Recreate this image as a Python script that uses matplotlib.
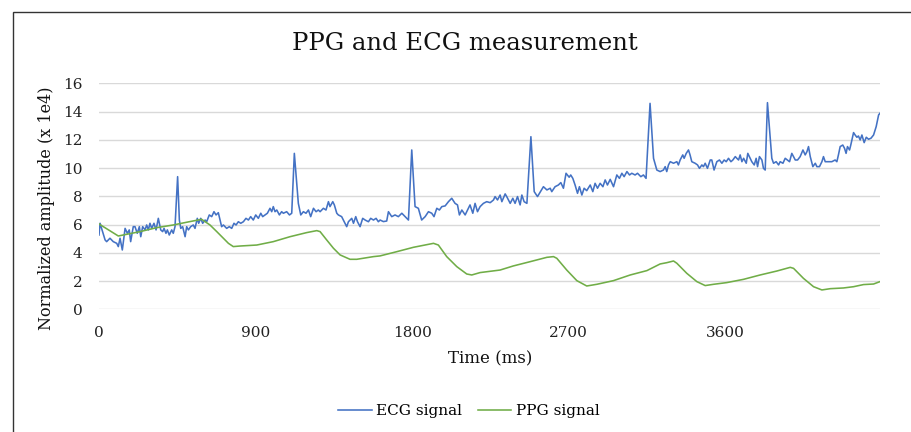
import matplotlib
matplotlib.use("Agg")
import matplotlib.pyplot as plt
from matplotlib.patches import Rectangle

# ECG signal (time in ms, amplitude x 1e4)
ecg_time_ms = [
    0, 6, 35, 44, 63, 82, 102, 111, 121, 134, 150, 163, 174, 182, 197, 207, 220, 232, 240, 251,
    265, 274, 284, 293, 303, 316, 328, 341, 355, 366, 374, 385, 393, 404, 418, 427, 437, 452, 462, 470,
    481, 495, 504, 514, 527, 542, 552, 565, 573, 585, 596, 610, 619, 634, 648, 661, 673, 686, 705, 715,
    734, 749, 763, 776, 788, 801, 815, 830, 845, 859, 872, 887, 901, 916, 930, 941, 955, 968, 983, 993,
    1002, 1012, 1022, 1037, 1050, 1060, 1079, 1095, 1108, 1123, 1146, 1160, 1175, 1190, 1204, 1217, 1233, 1248, 1261, 1271,
    1290, 1305, 1319, 1328, 1344, 1353, 1367, 1376, 1395, 1424, 1434, 1453, 1463, 1476, 1486, 1501, 1516, 1530, 1549, 1562,
    1578, 1593, 1606,
    1616, 1635, 1654, 1664, 1683, 1702, 1721, 1741, 1760, 1779, 1798, 1817, 1836, 1855, 1875, 1894, 1913, 1926, 1942, 1957,
    1971, 1990, 2009, 2028, 2047, 2061, 2072, 2086, 2105, 2133, 2149, 2162, 2176, 2191, 2210, 2229, 2249, 2268, 2277, 2291,
    2306, 2316, 2335, 2344, 2364, 2379, 2392, 2406, 2421, 2431, 2444, 2460, 2483, 2502, 2521, 2555, 2575, 2594, 2603, 2622,
    2641, 2655, 2670, 2685, 2703, 2712, 2724, 2737, 2751, 2762, 2776, 2789, 2804, 2824, 2839, 2852, 2866, 2881, 2897, 2910,
    2923, 2939, 2958, 2977, 2992, 3006, 3019, 3035, 3050, 3063, 3082, 3096, 3115, 3130, 3145, 3168, 3188, 3207,
    3226, 3245, 3255, 3264, 3274, 3284, 3303, 3322, 3331, 3341, 3356, 3364, 3376, 3389, 3398, 3408, 3427, 3441, 3452, 3466,
    3475, 3485, 3498, 3514, 3523, 3536, 3552, 3567, 3581, 3594, 3606, 3619, 3633, 3644, 3658, 3667, 3677, 3686, 3696, 3706,
    3721, 3730, 3744, 3753, 3767, 3778, 3786, 3797, 3811, 3820, 3830, 3843, 3868, 3878, 3893, 3907, 3916, 3932, 3945, 3958,
    3970, 3983, 3993, 4003, 4016, 4031, 4047, 4060, 4070, 4079, 4089, 4104, 4118, 4127, 4142, 4156, 4165, 4175, 4194, 4213,
    4232, 4242, 4251, 4261, 4276, 4286, 4295, 4303, 4315, 4322, 4338, 4347, 4357, 4366, 4376, 4386, 4399, 4411, 4424, 4438,
    4453, 4468, 4482, 4490,
]
ecg_signal = [
    5.26, 6.09, 4.91, 4.79, 5.03, 4.79, 4.67, 4.44, 5.03, 4.20, 5.73, 5.38, 5.62, 4.79, 5.85, 5.85, 5.38, 5.85, 5.14, 5.85,
    5.62, 5.97, 5.62, 6.09, 5.73, 6.09, 5.62, 6.44, 5.62, 5.50, 5.73, 5.38, 5.62, 5.26, 5.62, 5.38, 5.85, 9.39, 6.32, 5.73,
    5.85, 5.14, 5.85, 5.62, 5.85, 5.97, 5.73, 6.44, 6.09, 6.44, 6.09, 6.32, 6.20, 6.68, 6.56, 6.91, 6.68, 6.84, 5.85, 5.97,
    5.73, 5.85, 5.73, 6.09, 5.97, 6.20, 6.09, 6.20, 6.44, 6.32, 6.56, 6.32, 6.68, 6.44, 6.80, 6.56, 6.68, 6.80, 7.15, 6.91,
    7.27, 6.91, 7.03, 6.68, 6.91, 6.80, 6.91, 6.68, 6.80, 11.04, 7.50, 6.68, 6.91, 6.80, 7.03, 6.56, 7.15, 6.91, 7.03, 6.91,
    7.15, 7.03, 7.62, 7.27, 7.62, 7.39, 6.80, 6.68, 6.56, 5.85, 6.20, 6.44, 6.09, 6.56, 6.20, 5.85, 6.44, 6.32, 6.20, 6.44,
    6.32, 6.44, 6.20,
    6.32, 6.21, 6.25, 6.91, 6.56, 6.68, 6.56, 6.80, 6.56, 6.32, 11.28, 7.27, 7.15, 6.32, 6.56, 6.91, 6.80, 6.56, 7.15, 7.03,
    7.27, 7.32, 7.62, 7.86, 7.50, 7.39, 6.68, 7.03, 6.68, 7.39, 6.80, 7.50, 6.91, 7.27, 7.50, 7.62, 7.55, 7.74, 7.98, 7.74,
    8.09, 7.62, 8.17, 7.98, 7.50, 7.86, 7.50, 7.98, 7.39, 8.09, 7.62, 7.50, 12.22, 8.33, 7.98, 8.68, 8.45, 8.57, 8.33, 8.68,
    8.80, 8.97, 8.57, 9.63, 9.35, 9.51, 9.27, 8.80, 8.21, 8.68, 8.09, 8.57, 8.40, 8.80, 8.33, 8.92, 8.57, 8.92, 8.68, 9.16,
    8.80, 9.20, 8.68, 9.51, 9.27, 9.63, 9.39, 9.75, 9.51, 9.63, 9.51, 9.63, 9.39, 9.51, 9.27, 14.58, 10.69, 9.86,
    9.75, 9.86, 10.10, 9.75, 10.22, 10.45, 10.34, 10.45, 10.22, 10.57, 10.93, 10.69, 11.04, 11.28, 10.93, 10.45, 10.34, 10.22, 9.98, 10.22,
    10.10, 10.34, 9.98, 10.57, 10.57, 9.86, 10.45, 10.57, 10.34, 10.57, 10.45, 10.69, 10.45, 10.57, 10.81, 10.69, 10.57, 10.93, 10.45, 10.69,
    10.34, 11.04, 10.69, 10.45, 10.22, 10.69, 10.10, 10.81, 10.57, 9.98, 9.86, 14.63, 10.69, 10.34, 10.45, 10.22, 10.45, 10.34, 10.69, 10.57,
    10.45, 11.04, 10.81, 10.57, 10.57, 10.81, 11.28, 10.93, 11.16, 11.52, 10.81, 10.10, 10.34, 10.10, 10.10, 10.45, 10.81, 10.45, 10.45, 10.45,
    10.57, 10.45, 10.93, 11.52, 11.63, 11.40, 11.04, 11.52, 11.28, 11.63, 12.51, 12.34, 12.18, 12.27, 11.99, 12.34, 11.80, 12.18, 12.04, 12.11,
    12.34, 12.93, 13.76, 13.88,
]

# PPG signal
ppg_time_ms = [
    0, 111, 236, 332, 427, 523, 590, 638, 677, 715, 744, 772, 811, 907, 1002, 1098, 1194, 1252, 1271, 1309,
    1348, 1386, 1443, 1482, 1578,
    1616, 1712, 1808, 1923, 1951, 1999, 2057, 2114, 2143, 2191, 2306, 2382, 2478, 2575, 2613, 2632, 2689, 2747, 2804, 2862,
    2958, 3054, 3150,
    3226, 3264, 3303, 3322, 3379, 3437, 3485, 3533, 3609, 3705, 3801, 3897, 3974, 3993, 4050, 4108, 4156, 4204, 4280, 4338,
    4395, 4453, 4490,
]
ppg_signal = [
    6.04, 5.19, 5.50, 5.78, 5.97, 6.21, 6.37, 5.97, 5.50, 5.03, 4.67, 4.44, 4.48, 4.55, 4.79, 5.14, 5.43, 5.57, 5.50, 4.91,
    4.32, 3.85, 3.54, 3.54, 3.73,
    3.78, 4.08, 4.39, 4.67, 4.55, 3.73, 3.02, 2.50, 2.43, 2.60, 2.78, 3.07, 3.37, 3.68, 3.73, 3.61, 2.78, 2.03, 1.65, 1.77,
    2.03, 2.43, 2.74,
    3.21, 3.30, 3.42, 3.26, 2.55, 1.96, 1.68, 1.77, 1.89, 2.12, 2.43, 2.71, 2.97, 2.90, 2.19, 1.60, 1.37, 1.46, 1.51, 1.60,
    1.75, 1.79, 1.96,
]

x_ticks = [0, 900, 1800, 2700, 3600]
y_ticks = [0, 2, 4, 6, 8, 10, 12, 14, 16]

plt.rcParams['font.family'] = ['DejaVu Serif']

W, H = 911, 432
fig = plt.figure(figsize=(W / 100, H / 100), dpi=100)
ax = fig.add_axes([99 / W, 1 - 309.3 / H, (880 - 99) / W, (309.3 - 83.3) / H])

ax.plot(ecg_time_ms, ecg_signal, color='#4472C4', lw=1.15, label='ECG signal')
ax.plot(ppg_time_ms, ppg_signal, color='#70AD47', lw=1.15, label='PPG signal')

ax.set_xlim(0, 4490)
ax.set_ylim(0, 16)
ax.set_xticks(x_ticks)
ax.set_yticks(y_ticks)
ax.grid(axis='y', color='#D9D9D9', lw=1)
ax.set_axisbelow(True)
for s in ax.spines.values():
    s.set_visible(False)
ax.tick_params(axis='both', length=0, labelsize=11, colors='#222222')
ax.tick_params(axis='y', pad=12)
ax.tick_params(axis='x', pad=12)

fig.text(465 / W, 1 - 44 / H, 'PPG and ECG measurement', ha='center', va='center',
         fontsize=17.5, color='#111111')
fig.text(490 / W, 1 - 359 / H, 'Time (ms)', ha='center', va='center', fontsize=12, color='#111111')
fig.text(47 / W, 1 - 208 / H, 'Normalized amplitude (x 1e4)', ha='center', va='center',
         rotation=90, fontsize=11.5, color='#111111')

fig.legend(loc='center', bbox_to_anchor=(469 / W, 1 - 411 / H), ncol=2, frameon=False,
           fontsize=11, handlelength=2.2, handletextpad=0.3, columnspacing=1.0)

fig.add_artist(Rectangle((12.5 / W, -0.2), 1.5, (H - 12.5) / H + 0.2, transform=fig.transFigure,
                         fill=False, edgecolor='#333333', lw=1))

fig.savefig('out.png', dpi=100)
